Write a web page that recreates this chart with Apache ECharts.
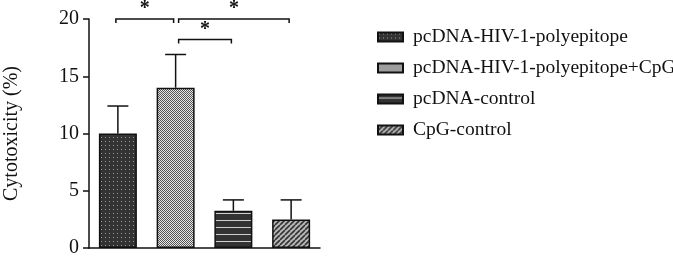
<!DOCTYPE html>
<html><head><meta charset="utf-8">
<script src="https://cdn.jsdelivr.net/npm/echarts@6/dist/echarts.min.js"></script>
<style>html,body{margin:0;padding:0;background:#fff}#c{width:673px;height:258px}</style>
</head><body><div id="c"></div>
<script>
var categories = ['pcDNA-HIV-1-polyepitope','pcDNA-HIV-1-polyepitope+CpG','pcDNA-control','CpG-control'];
var means = [10, 14, 3.25, 2.5];
var errTops = [12.4, 16.9, 4.2, 4.2];
var yTicks = {min: 0, max: 20, interval: 5};
var sigPairs = [[0, 1, 20], [1, 3, 20], [1, 2, 18.2]];
var sigLabels = ['*', '*', '*'];

function mkPattern(kind) {
  var c = document.createElement('canvas');
  var ctx = c.getContext('2d');
  if (kind === 0) {
    c.width = 4; c.height = 4;
    ctx.fillStyle = '#333'; ctx.fillRect(0,0,4,4);
    ctx.fillStyle = '#9a9a9a'; ctx.fillRect(1,1,1,1);
  } else if (kind === 1) {
    c.width = 2; c.height = 2;
    ctx.fillStyle = '#e6e6e6'; ctx.fillRect(0,0,2,2);
    ctx.fillStyle = '#555'; ctx.fillRect(0,0,1,1); ctx.fillRect(1,1,1,1);
  } else if (kind === 2) {
    c.width = 4; c.height = 7;
    ctx.fillStyle = '#333'; ctx.fillRect(0,0,4,7);
    ctx.fillStyle = '#d0d0d0'; ctx.fillRect(0,3,4,1);
  } else {
    c.width = 5; c.height = 5;
    ctx.fillStyle = '#b8b8b8'; ctx.fillRect(0,0,5,5);
    ctx.strokeStyle = '#333'; ctx.lineWidth = 1.6;
    ctx.beginPath();
    for (var k = -5; k <= 10; k += 5) { ctx.moveTo(k, 5); ctx.lineTo(k + 5, 0); }
    ctx.stroke();
  }
  return {image: c, repeat: 'repeat'};
}

var FONT = '"Liberation Serif","Times New Roman",serif';
var series = categories.map(function (name, i) {
  return {
    name: name, type: 'bar', barWidth: 38, barGap: '-100%',
    data: categories.map(function (_, j) { return j === i ? means[i] : '-'; }),
    itemStyle: {color: mkPattern(i), borderColor: '#111', borderWidth: 1.5},
    z: 2
  };
});
series.push({
  type: 'custom', z: 3,
  data: means.map(function (m, i) { return [i, errTops[i], m]; }),
  renderItem: function (params, api) {
    var b = api.coord([api.value(0), api.value(2)]);
    var t = api.coord([api.value(0), api.value(1)]);
    return {type: 'group', children: [
      {type: 'line', shape: {x1: b[0], y1: b[1], x2: t[0], y2: t[1]}, style: {stroke: '#111', lineWidth: 1.5}},
      {type: 'line', shape: {x1: t[0] - 10.5, y1: t[1], x2: t[0] + 10.5, y2: t[1]}, style: {stroke: '#111', lineWidth: 1.5}}
    ]};
  }
});
series.push({
  type: 'custom', z: 3, clip: false,
  data: sigPairs.map(function (p, k) { return [p[0], p[1], p[2], k]; }),
  renderItem: function (params, api) {
    var i1 = api.value(0), i2 = api.value(1), y = api.value(2);
    var a = api.coord([i1, y]), b = api.coord([i2, y]);
    var x1 = a[0] + (i1 === 0 ? -2 : 3), x2 = b[0] - 2, yy = a[1];
    return {type: 'group', children: [
      {type: 'polyline', shape: {points: [[x1, yy + 4], [x1, yy], [x2, yy], [x2, yy + 4]]}, style: {stroke: '#111', lineWidth: 1.5, fill: null}},
      {type: 'text', x: (x1 + x2) / 2, y: yy - 10, style: {text: sigLabels[api.value(3)], fill: '#111', font: 'bold 20px ' + FONT, textAlign: 'center', textVerticalAlign: 'middle'}}
    ]};
  }
});

var chart = echarts.init(document.getElementById('c'));
chart.setOption({
  animation: false,
  textStyle: {fontFamily: FONT},
  grid: {left: 89, right: 353, top: 19, bottom: 8, containLabel: false},
  legend: {
    orient: 'vertical', left: 372, top: 22, itemWidth: 25, itemHeight: 9, itemGap: 11, icon: 'rect',
    data: categories,
    textStyle: {fontSize: 19.5, fontFamily: FONT, color: '#111', lineHeight: 20, padding: [0, 0, 0, 5]},
    selectedMode: false
  },
  xAxis: {
    type: 'category', data: categories,
    axisLine: {lineStyle: {color: '#111', width: 1.5}},
    axisTick: {alignWithLabel: true, interval: 0, length: 8, lineStyle: {color: '#111', width: 1.5}},
    axisLabel: {show: false}
  },
  yAxis: {
    type: 'value', min: yTicks.min, max: yTicks.max, interval: yTicks.interval,
    name: 'Cytotoxicity (%)', nameLocation: 'middle', nameGap: 67,
    nameTextStyle: {fontSize: 20, fontFamily: FONT, color: '#111'},
    axisLine: {show: true, lineStyle: {color: '#111', width: 1.5}},
    axisTick: {show: true, length: 6, lineStyle: {color: '#111', width: 1.5}},
    axisLabel: {fontSize: 20, fontFamily: FONT, color: '#111', margin: 10},
    splitLine: {show: false}
  },
  series: series
});
</script></body></html>
